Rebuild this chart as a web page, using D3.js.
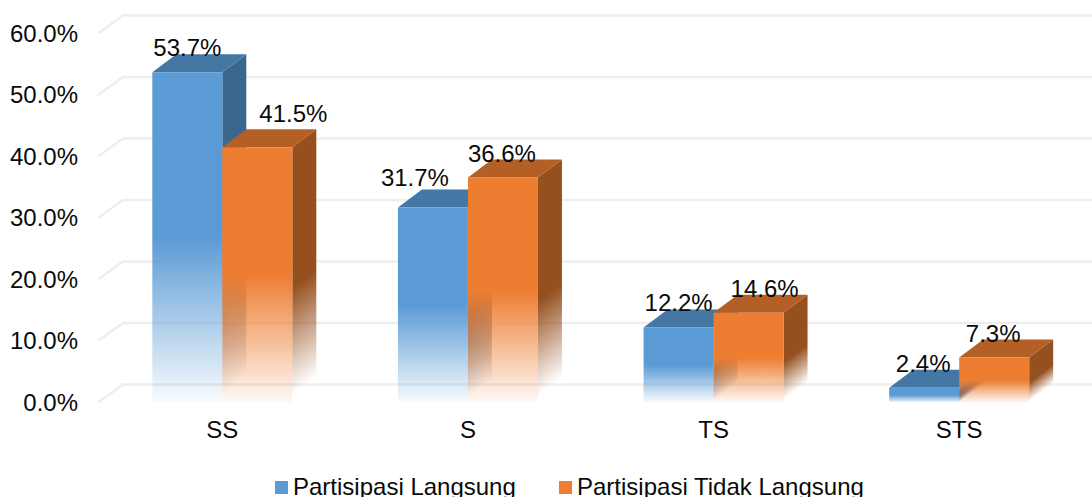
<!DOCTYPE html>
<html>
<head>
<meta charset="utf-8">
<script src="https://cdn.jsdelivr.net/npm/d3@7"></script>
<style>
  html, body { margin: 0; padding: 0; background: #fff; overflow: hidden; }
  text { font-family: "Liberation Sans", Arial, sans-serif; fill: #0a0a0a; }
</style>
</head>
<body>
<div id="chart"></div>
<script>
// data
const categories = ["SS", "S", "TS", "STS"];
const seriesNames = ["Partisipasi Langsung", "Partisipasi Tidak Langsung"];
const langsung = [53.7, 31.7, 12.2, 2.4];
const tidakLangsung = [41.5, 36.6, 14.6, 7.3];
const yTicks = [0, 10, 20, 30, 40, 50, 60];

// hand placed data labels in the original, [dx, dy] from the front face top centre
const labelNudge = [
  [[0, -16], [36, -25]],
  [[-18, -22], [-1, -15]],
  [[0, -16], [16, -16]],
  [[-1, -16], [-1, -16]]
];

const width = 1092, height = 497;
const depthX = 24, depthY = 18;
const colors = [
  {front: "#5b9bd5", top: "#4577a5", side: "#3b678d"},
  {front: "#ed7d31", top: "#b35f25", side: "#95501e"}
];

const svg = d3.select("#chart").append("svg")
    .attr("width", width)
    .attr("height", height)
    .style("display", "block");

const y = d3.scaleLinear().domain([0, 60]).range([402.5, 33.5]);
const x = d3.scaleBand().domain(categories).range([99.5, 1082]);
const xInner = d3.scaleBand().domain(d3.range(2)).range([-70, 70]);

// front faces fade straight down, solid in the top half
const defs = svg.append("defs");
colors.forEach((c, i) => {
  const grad = defs.append("linearGradient")
      .attr("id", `fade-${i}-front`)
      .attr("x1", 0).attr("y1", 0).attr("x2", 0).attr("y2", 1);
  grad.append("stop").attr("offset", "50%").attr("stop-color", c.front).attr("stop-opacity", 1);
  grad.append("stop").attr("offset", "100%").attr("stop-color", c.front).attr("stop-opacity", 0.04);
});

// side faces fade across the slant of the bottom edge, so each bar gets its own gradient
function sideGradient(id, color, xEdge, yTop, yBase) {
  const h = yBase - yTop;
  const yStart = yTop + 0.55 * h;
  const run = 0.42 * h;
  const grad = defs.append("linearGradient")
      .attr("id", id)
      .attr("gradientUnits", "userSpaceOnUse")
      .attr("x1", xEdge).attr("y1", yStart)
      .attr("x2", xEdge + 0.48 * run).attr("y2", yStart + 0.64 * run);
  grad.append("stop").attr("offset", "0%").attr("stop-color", color).attr("stop-opacity", 1);
  grad.append("stop").attr("offset", "100%").attr("stop-color", color).attr("stop-opacity", 0);
}

// gridlines: back wall plus the slanted floor piece
const grid = svg.append("g")
    .attr("fill", "none")
    .attr("stroke", "#eeeeee")
    .attr("stroke-width", 2.5);
yTicks.forEach(t => {
  grid.append("path")
      .attr("d", d3.line()([[98, y(t)], [98 + 25, y(t) - depthY], [width, y(t) - depthY]]));
});

// axes
const yAxis = svg.append("g")
    .attr("transform", "translate(78,0)")
    .call(d3.axisLeft(y).tickValues(yTicks).tickSize(0).tickPadding(0).tickFormat(d => d.toFixed(1) + "%"));
yAxis.select(".domain").remove();
yAxis.selectAll("text").attr("font-size", 24);

const xAxis = svg.append("g")
    .attr("transform", "translate(0,412)")
    .call(d3.axisBottom(x).tickSize(0).tickPadding(9));
xAxis.select(".domain").remove();
xAxis.selectAll("text").attr("font-size", 24);

// 3d bars, blue first so the orange bar sits on top of it
function drawSeries(values, i) {
  const g = svg.append("g").attr("class", "series-" + i);
  values.forEach((v, k) => {
    const x0 = x(categories[k]) + x.bandwidth() / 2 + xInner(i);
    const x1 = x0 + xInner.bandwidth();
    const yTop = y(v), yBase = y(0);
    const sideId = `fade-${i}-side-${k}`;
    sideGradient(sideId, colors[i].side, x1, yTop, yBase);

    g.append("polygon")
        .attr("points", [[x1, yTop], [x1 + depthX, yTop - depthY], [x1 + depthX, yBase - depthY], [x1, yBase]].join(" "))
        .attr("fill", `url(#${sideId})`);
    g.append("polygon")
        .attr("points", [[x0, yTop], [x0 + depthX, yTop - depthY], [x1 + depthX, yTop - depthY], [x1, yTop]].join(" "))
        .attr("fill", colors[i].top);
    g.append("rect")
        .attr("x", x0)
        .attr("y", yTop)
        .attr("width", x1 - x0)
        .attr("height", yBase - yTop)
        .attr("fill", `url(#fade-${i}-front)`);
  });
}
drawSeries(langsung, 0);
drawSeries(tidakLangsung, 1);

// data labels go over the bars
[langsung, tidakLangsung].forEach((values, i) => {
  values.forEach((v, k) => {
    const cx = x(categories[k]) + x.bandwidth() / 2 + xInner(i) + xInner.bandwidth() / 2;
    svg.append("text")
        .attr("x", cx + labelNudge[k][i][0])
        .attr("y", y(v) + labelNudge[k][i][1])
        .attr("text-anchor", "middle")
        .attr("font-size", 24)
        .text(v.toFixed(1) + "%");
  });
});

// legend, cut by the bottom edge like the reference
const legendX = [275, 559];
seriesNames.forEach((name, i) => {
  svg.append("rect")
      .attr("x", legendX[i])
      .attr("y", 481)
      .attr("width", 13)
      .attr("height", 13)
      .attr("fill", colors[i].front);
  svg.append("text")
      .attr("x", legendX[i] + 18)
      .attr("y", 495)
      .attr("font-size", 24)
      .text(name);
});
</script>
</body>
</html>
